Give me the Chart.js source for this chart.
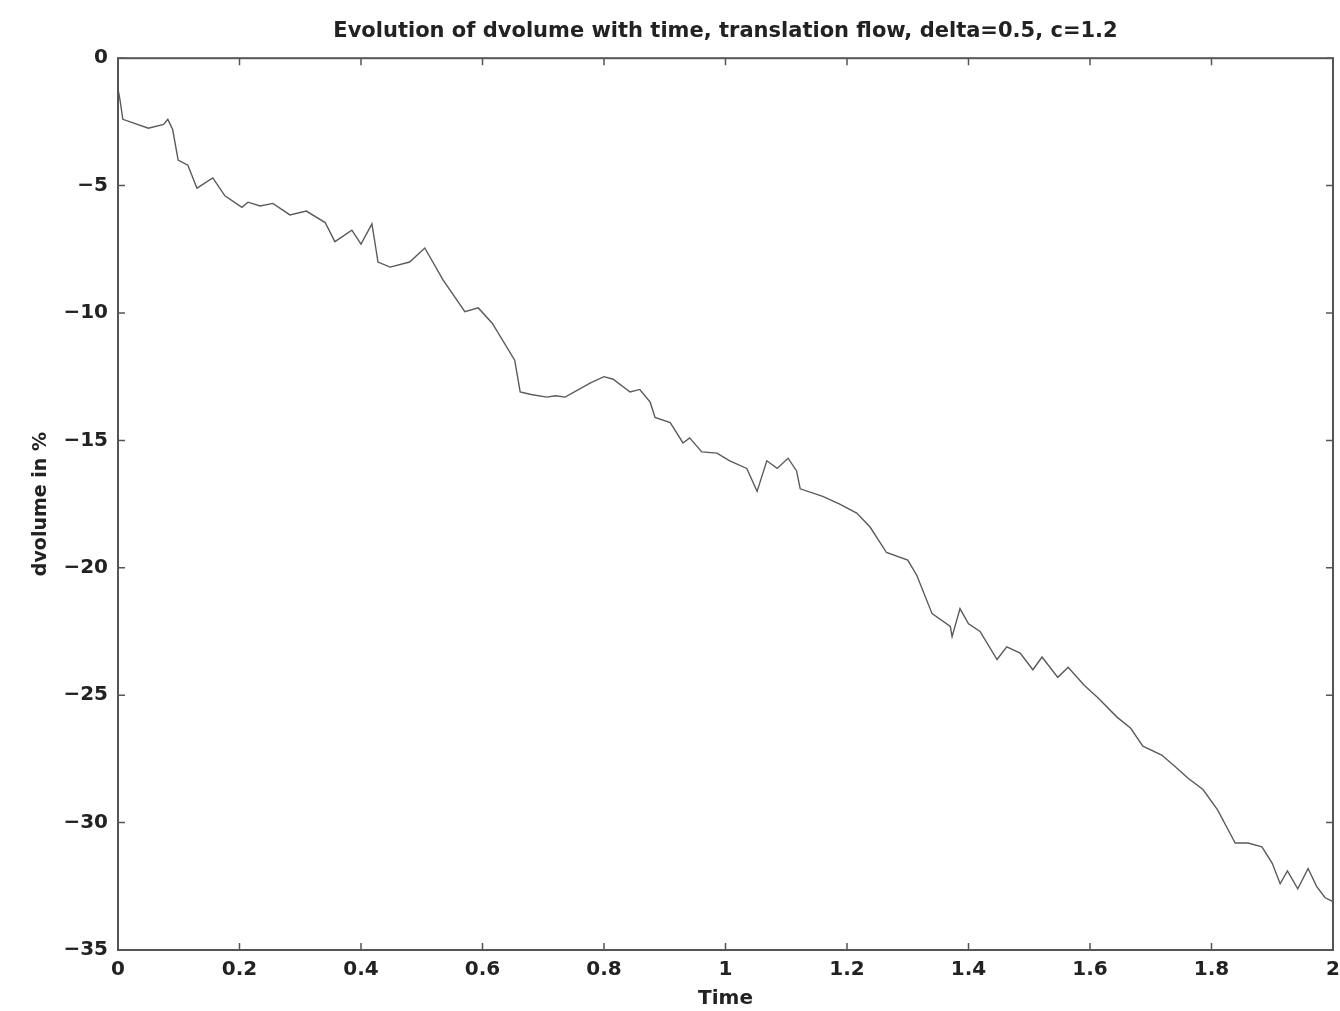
<!DOCTYPE html>
<html>
<head>
<meta charset="utf-8">
<script src="https://cdn.jsdelivr.net/npm/chart.js@4.4.1/dist/chart.umd.min.js"></script>
<style>
  html, body { margin: 0; padding: 0; background: #fff; }
  #wrap { width: 1340px; height: 1011px; position: relative; }
</style>
</head>
<body>
<div id="wrap"><canvas id="chart"></canvas></div>
<script>
// dvolume (%)
const times = [
  0, 0.003, 0.008, 0.05, 0.075, 0.082, 0.09, 0.099, 0.115, 0.13,
  0.156, 0.176, 0.204, 0.214, 0.234, 0.255, 0.283, 0.31, 0.341, 0.357,
  0.385, 0.40, 0.418, 0.428, 0.448, 0.48, 0.505, 0.535, 0.571, 0.593,
  0.616, 0.653, 0.662, 0.68, 0.706, 0.72, 0.736, 0.777, 0.80, 0.815,
  0.843, 0.859, 0.876, 0.884, 0.909, 0.93, 0.941, 0.961, 0.986, 1.007,
  1.035, 1.052, 1.068, 1.085, 1.103, 1.117, 1.123, 1.16, 1.188, 1.216,
  1.238, 1.265, 1.30, 1.315, 1.34, 1.37, 1.373, 1.386, 1.40, 1.419,
  1.447, 1.463, 1.485, 1.506, 1.521, 1.547, 1.564, 1.59, 1.613, 1.644,
  1.667, 1.687, 1.718, 1.74, 1.761, 1.786, 1.81, 1.83, 1.839, 1.86,
  1.883, 1.90, 1.913, 1.925, 1.942, 1.959, 1.973, 1.987, 2.0
];
const dvolume = [
  -1.2, -1.6, -2.4, -2.75, -2.6, -2.4, -2.8, -4.0, -4.2, -5.1,
  -4.7, -5.4, -5.85, -5.65, -5.8, -5.7, -6.15, -6.0, -6.45, -7.2,
  -6.75, -7.3, -6.5, -8.0, -8.2, -8.0, -7.45, -8.7, -9.95, -9.8,
  -10.4, -11.85, -13.1, -13.2, -13.3, -13.25, -13.3, -12.75, -12.5, -12.6,
  -13.1, -13.0, -13.5, -14.1, -14.3, -15.1, -14.9, -15.45, -15.5, -15.8,
  -16.1, -17.0, -15.8, -16.1, -15.7, -16.2, -16.9, -17.2, -17.5, -17.85,
  -18.4, -19.4, -19.7, -20.3, -21.8, -22.3, -22.7, -21.6, -22.2, -22.5,
  -23.6, -23.1, -23.35, -24.0, -23.5, -24.3, -23.9, -24.6, -25.1, -25.85,
  -26.3, -27.0, -27.35, -27.8, -28.25, -28.7, -29.5, -30.4, -30.8, -30.8,
  -30.95, -31.6, -32.4, -31.9, -32.6, -31.8, -32.5, -32.95, -33.1
];
const xTicks = [0, 0.2, 0.4, 0.6, 0.8, 1, 1.2, 1.4, 1.6, 1.8, 2];
const yTicks = [0, -5, -10, -15, -20, -25, -30, -35];

const FONT = 'DejaVu Sans';
const INK = '#222';

// matlab style box with ticks pointing inwards on all four sides
const frameTicks = {
  id: 'frameTicks',
  afterDraw(chart) {
    const {ctx, chartArea: a, scales: {x, y}} = chart;
    const len = 7;
    ctx.save();
    ctx.strokeStyle = '#555';
    ctx.lineWidth = 2;
    ctx.strokeRect(a.left, a.top, a.right - a.left, a.bottom - a.top);
    ctx.lineWidth = 1.5;
    ctx.beginPath();
    xTicks.forEach(v => {
      const px = x.getPixelForValue(v);
      ctx.moveTo(px, a.bottom); ctx.lineTo(px, a.bottom - len);
      ctx.moveTo(px, a.top); ctx.lineTo(px, a.top + len);
    });
    yTicks.forEach(v => {
      const py = y.getPixelForValue(v);
      ctx.moveTo(a.left, py); ctx.lineTo(a.left + len, py);
      ctx.moveTo(a.right, py); ctx.lineTo(a.right - len, py);
    });
    ctx.stroke();
    ctx.restore();
  }
};

const points = times.map((t, i) => ({x: t, y: dvolume[i]}));

new Chart(document.getElementById('chart'), {
  type: 'line',
  data: {
    datasets: [{
      data: points,
      borderColor: '#5a5a5a',
      borderWidth: 1.4,
      pointRadius: 0,
      tension: 0,
      fill: false
    }]
  },
  options: {
    responsive: true,
    maintainAspectRatio: false,
    animation: false,
    layout: { padding: { left: 0, right: 7, top: 0, bottom: 0 } },
    plugins: {
      legend: { display: false },
      tooltip: { enabled: false },
      title: {
        display: true,
        fullSize: false,
        text: 'Evolution of dvolume with time, translation flow, delta=0.5, c=1.2',
        color: INK,
        font: { family: FONT, size: 21, weight: 'bold' },
        padding: { top: 19, bottom: 14 }
      }
    },
    scales: {
      x: {
        type: 'linear',
        min: 0, max: 2,
        afterBuildTicks(scale) { scale.ticks = xTicks.map(v => ({value: v})); },
        afterFit(scale) { scale.height = 61; scale.paddingLeft = 0; scale.paddingRight = 0; },
        grid: { display: false, drawTicks: false },
        border: { display: false },
        ticks: {
          color: INK,
          padding: 8,
          maxRotation: 0,
          font: { family: FONT, size: 20, weight: 'bold' },
          callback: v => String(v)
        },
        title: {
          display: true,
          text: 'Time',
          color: INK,
          font: { family: FONT, size: 20, weight: 'bold' },
          padding: { top: 0, bottom: 0 }
        }
      },
      y: {
        type: 'linear',
        min: -35, max: 0,
        afterBuildTicks(scale) { scale.ticks = yTicks.map(v => ({value: v})); },
        afterFit(scale) { scale.width = 118; },
        grid: { display: false, drawTicks: false },
        border: { display: false },
        ticks: {
          color: INK,
          padding: 10,
          font: { family: FONT, size: 20, weight: 'bold' },
          callback: v => String(v).replace('-', '\u2212')
        },
        title: {
          display: true,
          text: 'dvolume in %',
          color: INK,
          font: { family: FONT, size: 19, weight: 'bold' },
          padding: { top: 30, bottom: 0 }
        }
      }
    }
  },
  plugins: [frameTicks]
});
</script>
</body>
</html>
